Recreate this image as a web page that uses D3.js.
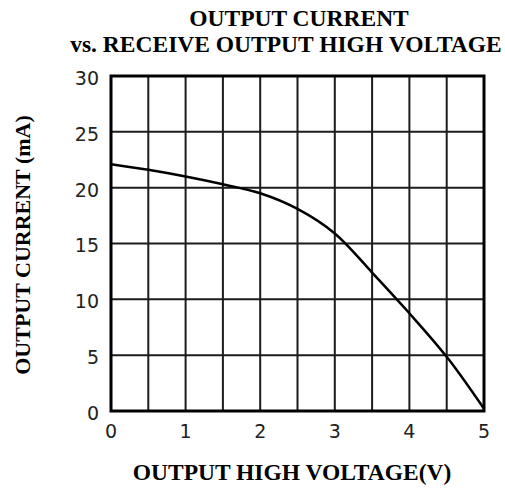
<!DOCTYPE html>
<html>
<head>
<meta charset="utf-8">
<script src="https://cdn.jsdelivr.net/npm/d3@7"></script>
<style>
  html, body { margin: 0; padding: 0; background: #fff; }
  svg { display: block; }
</style>
</head>
<body>
<div id="chart"></div>
<script>
// ---- data ----
const voltage = [0, 0.5, 1, 1.5, 2, 2.5, 3, 3.5, 4, 4.5, 5];
const current = [22.1, 21.6, 21.0, 20.3, 19.5, 18.1, 15.9, 12.4, 8.75, 4.85, 0.2];
const xTickLabels = [0, 1, 2, 3, 4, 5];
const yTickLabels = [0, 5, 10, 15, 20, 25, 30];
const xGridValues = [0.5, 1, 1.5, 2, 2.5, 3, 3.5, 4, 4.5];
const yGridValues = [5, 10, 15, 20, 25];
const titleLines = ["OUTPUT CURRENT", "vs. RECEIVE OUTPUT HIGH VOLTAGE"];
const xTitle = "OUTPUT HIGH VOLTAGE(V)";
const yTitle = "OUTPUT CURRENT (mA)";

// ---- layout ----
const W = 505, H = 488;
const mLeft = 111, mRight = 484, mTop = 76, mBottom = 411;

const svg = d3.select("#chart").append("svg").attr("width", W).attr("height", H);

const x = d3.scaleLinear().domain([0, 5]).range([mLeft, mRight]);
const y = d3.scaleLinear().domain([0, 30]).range([mBottom, mTop]);

const serif = "'Liberation Serif', 'Times New Roman', serif";
const sans = "'DejaVu Sans', Verdana, sans-serif";

// grid
svg.append("g").selectAll("line").data(xGridValues).join("line")
  .attr("x1", d => x(d)).attr("x2", d => x(d))
  .attr("y1", mTop).attr("y2", mBottom)
  .attr("stroke", "#1c1c1c").attr("stroke-width", 2);
svg.append("g").selectAll("line").data(yGridValues).join("line")
  .attr("x1", mLeft).attr("x2", mRight)
  .attr("y1", d => y(d)).attr("y2", d => y(d))
  .attr("stroke", "#1c1c1c").attr("stroke-width", 2);

// frame
svg.append("rect")
  .attr("x", mLeft).attr("y", mTop)
  .attr("width", mRight - mLeft).attr("height", mBottom - mTop)
  .attr("fill", "none").attr("stroke", "#000").attr("stroke-width", 3);

// curve
const line = d3.line()
  .x((d, i) => x(voltage[i]))
  .y(d => y(d))
  .curve(d3.curveCatmullRom.alpha(0.5));
svg.append("path").datum(current)
  .attr("d", line)
  .attr("fill", "none").attr("stroke", "#000").attr("stroke-width", 2.5);

// x tick labels
svg.append("g").selectAll("text").data(xTickLabels).join("text")
  .attr("x", d => x(d)).attr("y", 438)
  .attr("text-anchor", "middle")
  .attr("font-family", sans).attr("font-size", 19)
  .attr("fill", "#222")
  .text(d => d);

// y tick labels
svg.append("g").selectAll("text").data(yTickLabels).join("text")
  .attr("x", 99).attr("y", d => y(d) + 2)
  .attr("dy", "0.36em")
  .attr("text-anchor", "end")
  .attr("font-family", sans).attr("font-size", 19)
  .attr("fill", "#222")
  .text(d => d);

// titles
svg.append("text").attr("x", 299).attr("y", 26)
  .attr("text-anchor", "middle").attr("font-family", serif)
  .attr("font-weight", "bold").attr("font-size", 23.5)
  .text(titleLines[0]);
svg.append("text").attr("x", 286).attr("y", 52)
  .attr("text-anchor", "middle").attr("font-family", serif)
  .attr("font-weight", "bold").attr("font-size", 23.5)
  .text(titleLines[1]);

svg.append("text").attr("x", 292).attr("y", 480)
  .attr("text-anchor", "middle").attr("font-family", serif)
  .attr("font-weight", "bold").attr("font-size", 23.5)
  .text(xTitle);

svg.append("text")
  .attr("transform", "translate(30,245) rotate(-90)")
  .attr("text-anchor", "middle").attr("font-family", serif)
  .attr("font-weight", "bold").attr("font-size", 22)
  .text(yTitle);
</script>
</body>
</html>
